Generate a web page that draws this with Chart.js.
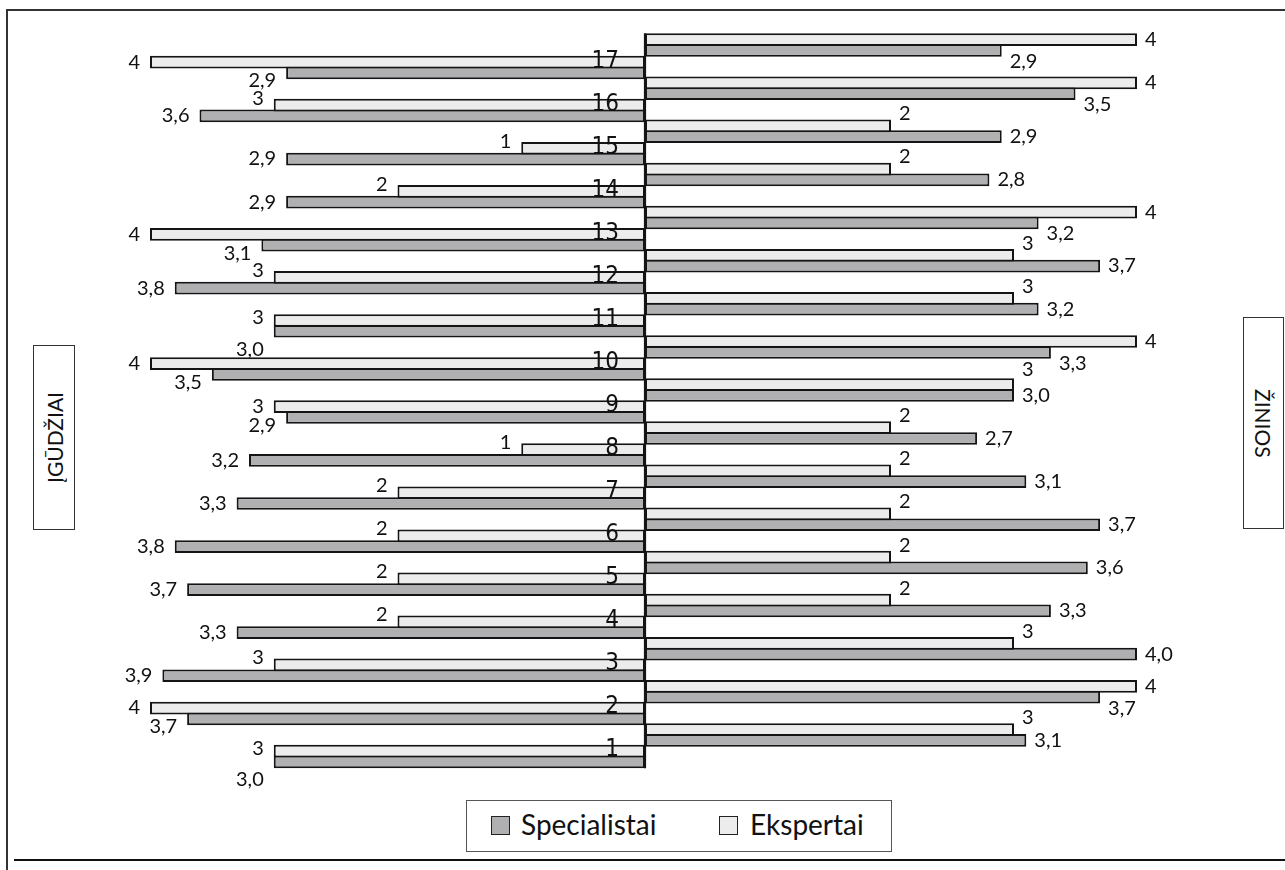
<!DOCTYPE html>
<html lang="lt">
<head>
<meta charset="utf-8">
<title>Įgūdžiai ir žinios</title>
<script src="https://cdn.jsdelivr.net/npm/chart.js@4.4.1/dist/chart.umd.min.js"></script>
<style>
  html, body { margin: 0; padding: 0; background: #fff; }
  #page { position: relative; width: 1285px; height: 870px; overflow: hidden;
          font-family: Lato, "Open Sans", sans-serif; color: #111; }
  #page canvas { position: absolute; left: 0; top: 0; }
  .rule { position: absolute; background: #333; }
  .side { position: absolute; box-sizing: border-box; border: 1.5px solid #333; background: #fff;
          display: flex; align-items: center; justify-content: center; }
  .side span { writing-mode: vertical-rl; font-size: 21px; line-height: 1; white-space: nowrap; }
  #skills-label { left: 33px; top: 345px; width: 42px; height: 185px; }
  #skills-label span { transform: rotate(180deg); }
  #knowledge-label { left: 1243px; top: 317px; width: 41px; height: 212px; }
  #legend { position: absolute; left: 466px; top: 800px; width: 426px; height: 52px;
            box-sizing: border-box; border: 1.5px solid #555; background: #fff; }
  .key { position: absolute; top: 15px; width: 19px; height: 19px; box-sizing: border-box; border: 1.5px solid #222; }
  .key-text { position: absolute; top: 9px; font-size: 28px; line-height: 28px; white-space: nowrap; }
</style>
</head>
<body>
<div id="page">
  <div class="rule" style="left:6px; top:9px; width:1279px; height:2px;"></div>
  <div class="rule" style="left:6px; top:9px; width:2px; height:861px;"></div>
  <div class="rule" style="left:14px; top:859px; width:1271px; height:2px; background:#111;"></div>

  <canvas id="skills" width="1285" height="870"></canvas>
  <canvas id="knowledge" width="1285" height="870"></canvas>

  <div class="side" id="skills-label"><span>ĮGŪDŽIAI</span></div>
  <div class="side" id="knowledge-label"><span>ŽINIOS</span></div>

  <div id="legend">
    <div class="key" style="left:24px; background:#b0b0b2;"></div>
    <div class="key-text" style="left:54px;">Specialistai</div>
    <div class="key" style="left:252px; background:#ebeceb;"></div>
    <div class="key-text" style="left:283px;">Ekspertai</div>
  </div>
</div>

<script>
// Question numbers, listed bottom (1) to top (17)
const categories = ['1','2','3','4','5','6','7','8','9','10','11','12','13','14','15','16','17'];

// ĮGŪDŽIAI (skills), left half
const skillsSpecialists = [3.0, 3.7, 3.9, 3.3, 3.7, 3.8, 3.3, 3.2, 2.9, 3.5, 3.0, 3.8, 3.1, 2.9, 2.9, 3.6, 2.9];
const skillsExperts     = [3, 4, 3, 2, 2, 2, 2, 1, 3, 4, 3, 3, 4, 2, 1, 3, 4];

// ŽINIOS (knowledge), right half
const knowledgeSpecialists = [3.1, 3.7, 4.0, 3.3, 3.6, 3.7, 3.1, 2.7, 3.0, 3.3, 3.2, 3.7, 3.2, 2.8, 2.9, 3.5, 2.9];
const knowledgeExperts     = [3, 4, 3, 2, 2, 2, 2, 2, 3, 4, 3, 3, 4, 2, 2, 4, 4];

const seriesNames = { specialists: 'Specialistai', experts: 'Ekspertai' };
const scaleMax = 4;

const SPEC_FILL = '#b0b0b2';
const EXP_FILL = '#ebeceb';
const EDGE = '#141414';
const INK = '#111';

// category axis runs top-down, so 17 goes first
const topDown = arr => arr.slice().reverse();

function barSets(experts, specialists) {
  const common = { borderColor: EDGE, borderWidth: 2, borderSkipped: false,
                   categoryPercentage: 0.5, barPercentage: 1.18 };
  return [
    Object.assign({ label: seriesNames.experts, data: topDown(experts), backgroundColor: EXP_FILL }, common),
    Object.assign({ label: seriesNames.specialists, data: topDown(specialists), backgroundColor: SPEC_FILL }, common)
  ];
}

// Vertical nudge for a value label, moving it off the neighbouring bar of the pair
function nudge(side, kind, e, s) {
  if (kind === 'experts') {
    if (s > e) return side === 'left' ? -7 : -12;
    if (s === e) return side === 'left' ? -3 : -15;
    return 0;
  }
  if (s < e) return side === 'left' ? 8 : 11;
  if (s === e) return side === 'left' ? 18 : 0;
  return 0;
}

const valueLabels = {
  id: 'valueLabels',
  afterDatasetsDraw(chart, args, opts) {
    const ctx = chart.ctx;
    const left = opts.side === 'left';
    const gap = left ? 10 : 8;
    const eVals = chart.data.datasets[0].data;
    const sVals = chart.data.datasets[1].data;
    ctx.save();
    ctx.font = '20px Lato, "Open Sans", sans-serif';
    ctx.fillStyle = INK;
    ctx.textBaseline = 'middle';
    ctx.textAlign = left ? 'right' : 'left';
    [0, 1].forEach(di => {
      const kind = di === 0 ? 'experts' : 'specialists';
      chart.getDatasetMeta(di).data.forEach((bar, i) => {
        const e = eVals[i], s = sVals[i];
        const v = di === 0 ? e : s;
        const text = di === 0 ? String(v) : v.toFixed(1).replace('.', ',');
        const x = bar.x + (left ? -gap : gap);
        ctx.fillText(text, x, bar.y + nudge(opts.side, kind, e, s));
      });
    });
    ctx.restore();
  }
};

// Question numbers printed just left of the centre line
const categoryLabels = {
  id: 'categoryLabels',
  afterDatasetsDraw(chart) {
    const ctx = chart.ctx;
    const yScale = chart.scales.y;
    ctx.save();
    ctx.font = '24px "Liberation Sans Narrow", "DejaVu Sans Condensed", Lato, sans-serif';
    ctx.fillStyle = INK;
    ctx.textAlign = 'right';
    ctx.textBaseline = 'alphabetic';
    chart.data.labels.forEach((lab, i) => {
      ctx.fillText(lab, chart.chartArea.right - 26, yScale.getPixelForValue(i));
    });
    ctx.restore();
  }
};

function options(side, padding) {
  return {
    indexAxis: 'y',
    responsive: false,
    animation: false,
    devicePixelRatio: 1,
    layout: { padding },
    plugins: {
      legend: { display: false },
      tooltip: { enabled: false },
      valueLabels: { side }
    },
    scales: {
      x: { type: 'linear', min: 0, max: scaleMax, reverse: side === 'left', display: false },
      y: { type: 'category', offset: true, display: false }
    }
  };
}

const skillsChart = new Chart(document.getElementById('skills'), {
  type: 'bar',
  data: { labels: topDown(categories), datasets: barSets(skillsExperts, skillsSpecialists) },
  options: options('left', { left: 150, right: 640, top: 46, bottom: 92 }),
  plugins: [valueLabels, categoryLabels]
});

// Centre line from the top knowledge bar down to the bottom skills bar
const centreLine = {
  id: 'centreLine',
  afterDatasetsDraw(chart) {
    const ctx = chart.ctx;
    const first = chart.getDatasetMeta(0).data[0];
    const lowMeta = skillsChart.getDatasetMeta(1);
    const last = lowMeta.data[lowMeta.data.length - 1];
    const top = first.y - first.height / 2;
    const bottom = last.y + last.height / 2;
    ctx.save();
    ctx.strokeStyle = EDGE;
    ctx.lineWidth = 2.2;
    ctx.beginPath();
    ctx.moveTo(chart.chartArea.left, top);
    ctx.lineTo(chart.chartArea.left, bottom);
    ctx.stroke();
    ctx.restore();
  }
};

new Chart(document.getElementById('knowledge'), {
  type: 'bar',
  data: { labels: topDown(categories), datasets: barSets(knowledgeExperts, knowledgeSpecialists) },
  options: options('right', { left: 645, right: 148, top: 23.5, bottom: 113.5 }),
  plugins: [valueLabels, centreLine]
});
</script>
</body>
</html>
